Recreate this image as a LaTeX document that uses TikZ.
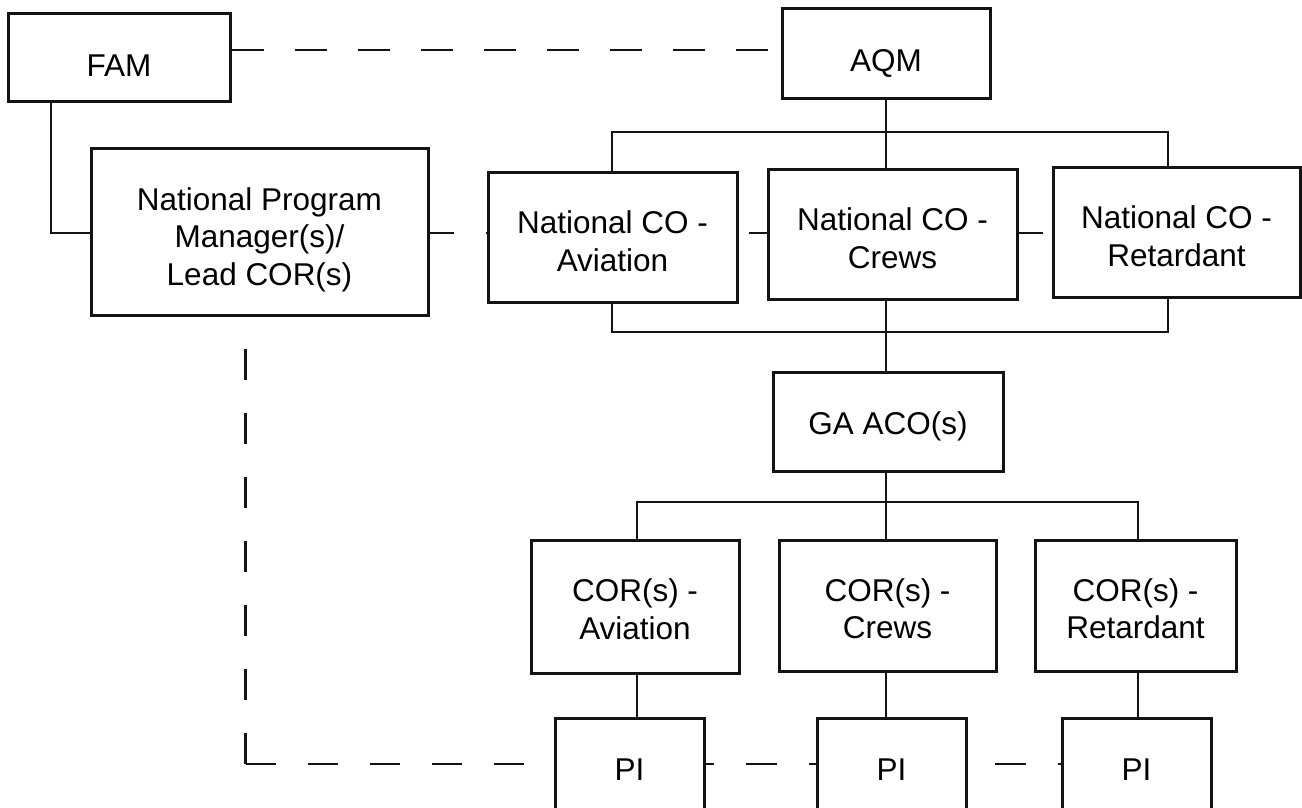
\documentclass[tikz,border=0pt]{standalone}
\usepackage{fontspec}
\setmainfont{Liberation Sans}
\newcommand\orgfont{\fontsize{31.5}{37.5}\selectfont}
\definecolor{inkcol}{HTML}{141414}
\begin{document}
\begin{tikzpicture}[x=1pt,y=-1pt,
  box/.style={draw=inkcol, line width=3pt, fill=white, inner sep=0pt},
  conn/.style={draw=inkcol, line width=2.8pt},
  dashconn/.style={conn, dash pattern=on 31pt off 32pt},
  txt/.style={font=\orgfont, align=center, text depth=0pt, inner sep=0pt, text=black}
]
\useasboundingbox (0,0) rectangle (1302,808);
\clip (0,0) rectangle (1302,808);
\fill[white] (0,0) rectangle (1302,808);

% guide lines for the connectors
\coordinate (xf) at (51,0);
\coordinate (xc) at (886,0);
\coordinate (xa) at (612,0);
\coordinate (xr) at (1168,0);
\coordinate (xla) at (637,0);
\coordinate (xlr) at (1138,0);
\coordinate (xd) at (245.7,0);
\coordinate (ytop) at (0,50);
\coordinate (ymid) at (0,233);
\coordinate (ybus1) at (0,132);
\coordinate (ybus2) at (0,332);
\coordinate (ybus3) at (0,502);
\coordinate (ypi) at (0,764);

% boxes
\node[box, minimum width=222, minimum height=88,
  label={[txt,yshift=-8pt]center:FAM}] (fam) at (119,58) {};
\node[box, minimum width=208, minimum height=90,
  label={[txt,yshift=-6.5pt]center:AQM}] (aqm) at (886,54) {};
\node[box, minimum width=337, minimum height=167,
  label={[txt,yshift=-5pt]center:National Program\\Manager(s)/\\Lead COR(s)}] (npm) at (259.5,231.5) {};
\node[box, minimum width=249, minimum height=130,
  label={[txt,yshift=-4pt]center:National CO -\\Aviation}] (ncoa) at (612.5,237) {};
\node[box, minimum width=249, minimum height=130,
  label={[txt,yshift=-4pt]center:National CO -\\Crews}] (ncoc) at (892.5,234) {};
\node[box, minimum width=247, minimum height=130,
  label={[txt,yshift=-4pt]center:National CO -\\Retardant}] (ncor) at (1176.5,232) {};
\node[box, minimum width=230, minimum height=99,
  label={[txt,yshift=-2pt]center:GA ACO(s)}] (gaaco) at (888,421.5) {};
\node[box, minimum width=208, minimum height=133,
  label={[txt,yshift=-2.5pt]center:COR(s) -\\Aviation}] (cora) at (635,606.5) {};
\node[box, minimum width=217, minimum height=131,
  label={[txt,yshift=-3pt]center:COR(s) -\\Crews}] (corc) at (887.5,605.5) {};
\node[box, minimum width=201, minimum height=131,
  label={[txt,yshift=-3pt]center:COR(s) -\\Retardant}] (corr) at (1135.5,605.5) {};
\node[box, minimum width=149, minimum height=104,
  label={[txt]center:PI}] (pia) at (629.5,770) {};
\node[box, minimum width=149, minimum height=104,
  label={[txt]center:PI}] (pic) at (891.5,770) {};
\node[box, minimum width=149, minimum height=104,
  label={[txt]center:PI}] (pir) at (1136.5,770) {};

% solid reporting lines
\draw[conn] (fam.south -| xf) -- (xf |- ymid) -- (npm.west |- ymid);
\draw[conn] (aqm.south -| xc) -- (ncoc.north -| xc);
\draw[conn] (ncoa.north -| xa) -- (xa |- ybus1) -- (xr |- ybus1) -- (ncor.north -| xr);
\draw[conn] (ncoa.south -| xa) -- (xa |- ybus2) -- (xr |- ybus2) -- (ncor.south -| xr);
\draw[conn] (ncoc.south -| xc) -- (gaaco.north -| xc);
\draw[conn] (gaaco.south -| xc) -- (corc.north -| xc);
\draw[conn] (cora.north -| xla) -- (xla |- ybus3) -- (xlr |- ybus3) -- (corr.north -| xlr);
\draw[conn] (cora.south -| xla) -- (pia.north -| xla);
\draw[conn] (corc.south -| xc) -- (pic.north -| xc);
\draw[conn] (corr.south -| xlr) -- (pir.north -| xlr);

% dashed coordination lines
\draw[conn, dash pattern=on 32pt off 31pt] (fam.east |- ytop) -- (aqm.west |- ytop);
\draw[dashconn, dash phase=7pt] (npm.east |- ymid) -- (ncoa.west |- ymid);
\draw[dashconn, dash phase=53pt] (ncoa.east |- ymid) -- (ncoc.west |- ymid);
\draw[dashconn, dash phase=7pt] (ncoc.east |- ymid) -- (ncor.west |- ymid);
\coordinate (corner) at (xd |- ypi);
\draw[conn, dash pattern=on 31pt off 33pt] (corner) -- (npm.south -| xd);
\draw[conn, dash pattern=on 30pt off 32pt] (corner) -- (pia.west |- ypi);
\draw[dashconn, dash phase=23pt] (pia.east |- ypi) -- (pic.west |- ypi);
\draw[dashconn, dash phase=36pt] (pic.east |- ypi) -- (pir.west |- ypi);
\end{tikzpicture}
\end{document}
